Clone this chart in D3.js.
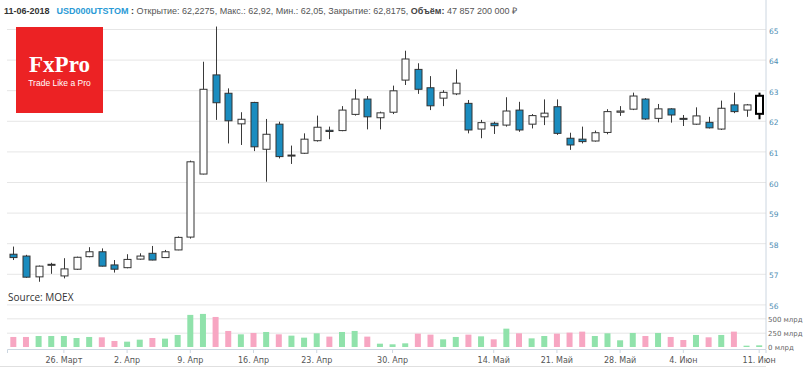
<!DOCTYPE html>
<html>
<head>
<meta charset="utf-8">
<script src="https://cdn.jsdelivr.net/npm/d3@7"></script>
<style>
  body { margin: 0; background: #fff; }
  svg { display: block; }
</style>
</head>
<body>
<div id="chart-container"></div>
<script>
// Trading days (ordinal axis, one slot per session)
const dates = [
  '2018-03-20', '2018-03-21', '2018-03-22', '2018-03-23',
  '2018-03-26', '2018-03-27', '2018-03-28', '2018-03-29', '2018-03-30',
  '2018-04-02', '2018-04-03', '2018-04-04', '2018-04-05', '2018-04-06',
  '2018-04-09', '2018-04-10', '2018-04-11', '2018-04-12', '2018-04-13',
  '2018-04-16', '2018-04-17', '2018-04-18', '2018-04-19', '2018-04-20',
  '2018-04-23', '2018-04-24', '2018-04-25', '2018-04-26', '2018-04-27', '2018-04-28',
  '2018-04-30', '2018-05-02', '2018-05-03', '2018-05-04',
  '2018-05-07', '2018-05-08', '2018-05-10', '2018-05-11',
  '2018-05-14', '2018-05-15', '2018-05-16', '2018-05-17', '2018-05-18',
  '2018-05-21', '2018-05-22', '2018-05-23', '2018-05-24', '2018-05-25',
  '2018-05-28', '2018-05-29', '2018-05-30', '2018-05-31', '2018-06-01',
  '2018-06-04', '2018-06-05', '2018-06-06', '2018-06-07', '2018-06-08', '2018-06-09',
  '2018-06-11'
];

const open = [
  57.64, 57.58, 56.90, 57.28, 56.93, 57.15, 57.56, 57.72, 57.29, 57.20,
  57.48, 57.67, 57.53, 57.78, 58.20, 60.26, 63.50, 62.90, 61.90, 62.60,
  61.07, 61.89, 60.85, 60.94, 61.35, 61.69, 61.68, 62.21, 62.71, 62.10,
  62.28, 63.33, 63.68, 63.08, 62.74, 62.88, 62.57, 61.73, 61.92, 61.86,
  62.35, 61.89, 62.13, 62.46, 61.43, 61.40, 61.34, 61.62, 62.28, 62.38,
  62.71, 62.08, 62.39, 62.08, 61.89, 61.95, 61.73, 62.52, 62.35, 62.2275
];
const high = [
  57.89, 57.62, 57.27, 57.36, 57.51, 57.56, 57.87, 57.83, 57.45, 57.64,
  57.67, 57.91, 57.78, 58.22, 60.70, 63.93, 65.08, 63.06, 62.28, 62.62,
  62.06, 61.97, 61.19, 61.59, 62.17, 61.81, 62.48, 63.03, 62.81, 62.30,
  63.15, 64.29, 63.88, 63.46, 63.00, 63.68, 62.68, 62.03, 61.97, 62.77,
  62.62, 62.22, 62.70, 62.70, 61.61, 61.81, 61.68, 62.38, 62.48, 62.92,
  62.74, 62.55, 62.41, 62.19, 62.44, 62.13, 62.66, 62.92, 62.55, 62.92
];
const low = [
  57.45, 56.87, 56.74, 57.00, 56.85, 57.13, 57.54, 57.24, 57.04, 57.18,
  57.46, 57.44, 57.52, 57.77, 58.15, 60.25, 62.03, 61.26, 61.21, 61.01,
  60.01, 60.77, 60.59, 60.92, 61.32, 61.40, 61.66, 62.17, 61.72, 61.72,
  62.22, 63.17, 62.88, 62.35, 62.48, 62.84, 61.59, 61.43, 61.57, 61.81,
  61.64, 61.75, 61.86, 61.54, 61.05, 61.26, 61.32, 61.56, 62.16, 62.35,
  62.03, 61.95, 61.94, 61.83, 61.87, 61.75, 61.70, 62.25, 62.13, 62.05
];
const close = [
  57.53, 56.89, 57.25, 57.31, 57.16, 57.54, 57.72, 57.25, 57.15, 57.47,
  57.58, 57.45, 57.72, 58.19, 60.66, 63.03, 62.59, 62.00, 62.05, 61.15,
  61.56, 60.83, 60.88, 61.40, 61.79, 61.65, 62.35, 62.71, 62.13, 62.26,
  62.98, 64.02, 63.03, 62.49, 62.93, 63.23, 61.70, 61.94, 61.84, 62.32,
  61.70, 62.17, 62.25, 61.59, 61.21, 61.32, 61.61, 62.30, 62.32, 62.81,
  62.06, 62.39, 62.19, 62.05, 62.16, 61.77, 62.41, 62.30, 62.52, 62.8175
];

// Volume, billions of roubles
const volume = [
  175, 175, 192, 192, 192, 157, 175, 169, 105, 93,
  128, 157, 146, 210, 560, 577, 524, 280, 221, 245,
  262, 221, 198, 163, 239, 181, 262, 280, 181, 58,
  47, 64, 233, 216, 134, 175, 216, 186, 134, 320,
  239, 151, 192, 233, 251, 268, 192, 239, 117, 245,
  192, 245, 175, 122, 210, 169, 210, 268, 23, 29
];

const tickDates = ['2018-03-26', '2018-04-02', '2018-04-09', '2018-04-16', '2018-04-23',
  '2018-04-30', '2018-05-14', '2018-05-21', '2018-05-28', '2018-06-04', '2018-06-11'];
const tickLabels = ['26. Март', '2. Апр', '9. Апр', '16. Апр', '23. Апр',
  '30. Апр', '14. Май', '21. Май', '28. Май', '4. Июн', '11. Июн'];
const priceTicks = [56, 57, 58, 59, 60, 61, 62, 63, 64, 65];
const volumeTicks = [0, 250, 500];

const candles = dates.map((d, i) => ({
  date: d, open: open[i], high: high[i], low: low[i], close: close[i], volume: volume[i]
}));

const width = 807;
const height = 367;
const plotLeft = 7;
const plotRight = 766;

const svg = d3.select('#chart-container')
  .append('svg')
  .attr('width', width)
  .attr('height', height);

// scales
const x = d3.scaleBand().domain(dates).range([plotLeft, plotRight - 0.5]);
const xc = (d) => x(d) + x.bandwidth() / 2;
const y = d3.scaleLinear().domain([56, 65]).range([304.4, 29]);
const yv = d3.scaleLinear().domain([0, 750]).range([347, 304]);

// price grid + labels
const yAxis = d3.axisRight(y)
  .tickValues(priceTicks)
  .tickSize(-(plotRight - plotLeft))
  .tickPadding(3)
  .tickFormat(d3.format('d'));
const yG = svg.append('g')
  .attr('transform', `translate(${plotRight},0)`)
  .call(yAxis);
yG.select('.domain').remove();
yG.selectAll('line').attr('stroke', '#e6e6e6');
yG.selectAll('text')
  .attr('fill', '#4d8db3')
  .attr('font-family', 'DejaVu Sans, sans-serif')
  .attr('font-size', 7.5)
  .attr('dy', '0.55em');

// volume grid + labels
const vAxis = d3.axisRight(yv)
  .tickValues(volumeTicks)
  .tickSize(-(plotRight - plotLeft))
  .tickPadding(2)
  .tickFormat((d) => d + ' млрд');
const vG = svg.append('g')
  .attr('transform', `translate(${plotRight},0)`)
  .call(vAxis);
vG.select('.domain').remove();
vG.selectAll('line')
  .attr('stroke', (d) => (d === 0 ? 'none' : '#e6e6e6'));
vG.selectAll('text')
  .attr('fill', '#666')
  .attr('font-family', 'DejaVu Sans, sans-serif')
  .attr('font-size', 7)
  .attr('dy', '0.4em');

// right axis line
svg.append('line')
  .attr('x1', plotRight).attr('x2', plotRight)
  .attr('y1', 0).attr('y2', 349)
  .attr('stroke', '#ccd6e0');

// volume bars
svg.append('g')
  .selectAll('rect')
  .data(candles)
  .enter()
  .append('rect')
  .attr('x', (d) => xc(d.date) - 3)
  .attr('y', (d) => yv(d.volume))
  .attr('width', 6)
  .attr('height', (d) => yv(0) - yv(d.volume))
  .attr('fill', (d) => (d.close >= d.open ? '#90e2ab' : '#f7a6c2'));

// candles
const cg = svg.append('g')
  .selectAll('g')
  .data(candles)
  .enter()
  .append('g');

const last = candles.length - 1;

cg.append('line')
  .attr('x1', (d) => Math.round(xc(d.date)) + 0.5)
  .attr('x2', (d) => Math.round(xc(d.date)) + 0.5)
  .attr('y1', (d) => y(d.high))
  .attr('y2', (d) => y(d.low))
  .attr('stroke', (d, i) => (i === last ? '#000' : '#3a3a3a'))
  .attr('stroke-width', (d, i) => (i === last ? 2 : 1));

cg.append('rect')
  .attr('x', (d) => Math.round(xc(d.date)) - 3)
  .attr('y', (d) => y(Math.max(d.open, d.close)))
  .attr('width', 7)
  .attr('height', (d) => Math.max(1, Math.abs(y(d.open) - y(d.close))))
  .attr('fill', (d) => (d.close >= d.open ? '#fff' : '#1a8cbf'))
  .attr('stroke', (d, i) => (i === last ? '#000' : '#333'))
  .attr('stroke-width', (d, i) => (i === last ? 2 : 1));

// x axis
const xAxis = d3.axisBottom(x)
  .tickValues(tickDates)
  .tickSize(4)
  .tickPadding(4)
  .tickFormat((d) => tickLabels[tickDates.indexOf(d)]);
const xG = svg.append('g')
  .attr('transform', 'translate(0,349)')
  .call(xAxis);
xG.select('.domain').attr('stroke', '#ccd6e0');
xG.selectAll('line').attr('stroke', '#ccd6e0');
xG.selectAll('text')
  .attr('fill', '#555')
  .attr('font-family', 'DejaVu Sans, sans-serif')
  .attr('font-size', 8);

// bottom border
svg.append('line')
  .attr('x1', 0).attr('x2', plotRight)
  .attr('y1', 366.5).attr('y2', 366.5)
  .attr('stroke', '#e0e0e0');

// header
const header = svg.append('text')
  .attr('x', 4)
  .attr('y', 14)
  .attr('font-family', 'Liberation Sans, Arial, sans-serif')
  .attr('font-size', 9)
  .attr('fill', '#555');
header.append('tspan').attr('font-weight', 'bold').attr('fill', '#333').text('11-06-2018');
header.append('tspan').attr('dx', 7).attr('font-weight', 'bold').attr('fill', '#2a9ad6').text('USD000UTSTOM');
header.append('tspan').attr('font-weight', 'bold').attr('fill', '#333').text(' : ');
header.append('tspan').text('Открытие: 62,2275, Макс.: 62,92, Мин.: 62,05, Закрытие: 62,8175, ');
header.append('tspan').attr('font-weight', 'bold').attr('fill', '#444').text('Объём:');
header.append('tspan').text(' 47 857 200 000 ₽');

// logo
svg.append('rect')
  .attr('x', 16).attr('y', 27)
  .attr('width', 87).attr('height', 86)
  .attr('fill', '#ec2224');
svg.append('text')
  .attr('x', 59.5).attr('y', 72)
  .attr('text-anchor', 'middle')
  .attr('font-family', 'Liberation Serif, serif')
  .attr('font-weight', 'bold')
  .attr('font-size', 23)
  .attr('fill', '#fff')
  .text('FxPro');
svg.append('text')
  .attr('x', 59.5).attr('y', 86)
  .attr('text-anchor', 'middle')
  .attr('font-family', 'Liberation Sans, Arial, sans-serif')
  .attr('font-size', 8.5)
  .attr('fill', '#fff')
  .text('Trade Like a Pro');

// source note
svg.append('text')
  .attr('x', 8).attr('y', 301)
  .attr('font-family', 'Open Sans, sans-serif')
  .attr('font-size', 10)
  .attr('fill', '#333')
  .text('Source: MOEX');
</script>
</body>
</html>
